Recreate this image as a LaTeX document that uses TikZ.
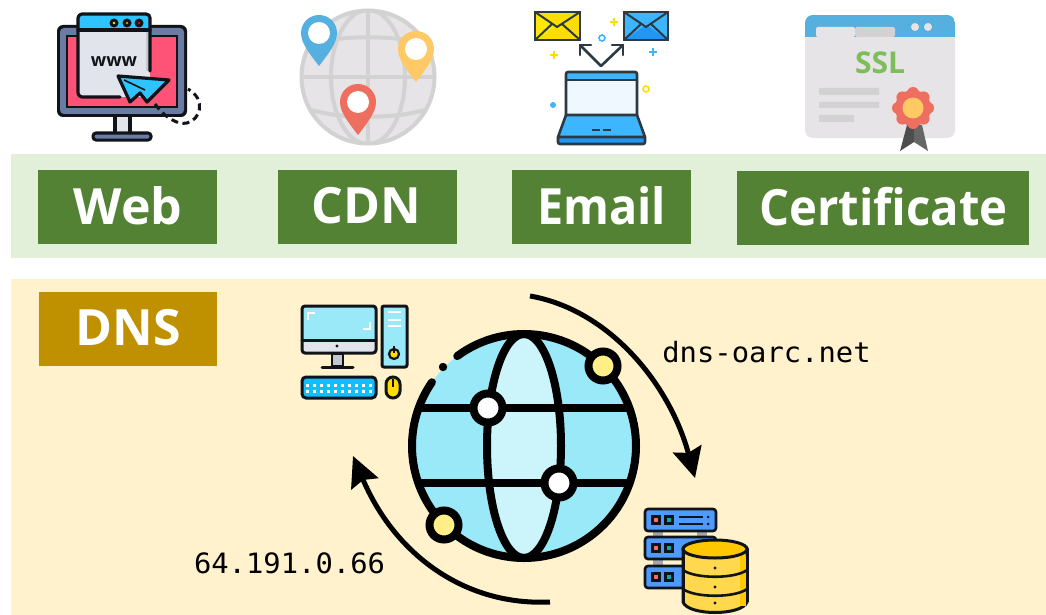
\documentclass[tikz,border=0pt]{standalone}
\usepackage{fontspec}
\setmainfont{Open Sans}
\newfontfamily\monof{DejaVu Sans Mono}
\usetikzlibrary{arrows.meta}
\definecolor{dk}{HTML}{101418}
\definecolor{bandg}{HTML}{E2F0D9}
\definecolor{bandy}{HTML}{FFF2CC}
\definecolor{btng}{HTML}{548235}
\definecolor{btny}{HTML}{BF9000}
\definecolor{pale}{HTML}{E6E4E6}
\definecolor{gline}{HTML}{D2D2D2}
\definecolor{pinb}{HTML}{55B0E0}
\definecolor{piny}{HTML}{FFC966}
\definecolor{pinr}{HTML}{EE6F60}
\definecolor{edk}{HTML}{2B3A42}
\definecolor{eblu}{HTML}{3DB5FF}
\definecolor{eblud}{HTML}{2096F5}
\definecolor{eyel}{HTML}{FFDD00}
\definecolor{cyan1}{HTML}{99E9F9}
\definecolor{cyan2}{HTML}{CBF5FB}
\definecolor{sat}{HTML}{FFEF86}
\definecolor{srv}{HTML}{4D9BFF}
\definecolor{dbf}{HTML}{FFD84D}
\definecolor{dbt}{HTML}{FFC800}
\definecolor{winbody}{HTML}{E1E4EA}
\definecolor{winshade}{HTML}{C3C8D0}
\definecolor{winbar}{HTML}{2EC4FF}
\definecolor{monframe}{HTML}{6B7BA4}
\definecolor{monpink}{HTML}{FF5277}
\definecolor{lapscr}{HTML}{EEF8FE}
\definecolor{sslg}{HTML}{7DBD5A}
\definecolor{ribd}{HTML}{4D4D4D}
\definecolor{ribl}{HTML}{666666}
\definecolor{kbd}{HTML}{10BFFF}
\definecolor{tealb}{HTML}{10A8A8}
\tikzset{
  btn/.style={text=white,font=\fontsize{50}{50}\selectfont\bfseries,inner sep=0pt,anchor=center},
  mono/.style={font=\fontsize{28}{28}\monof,text=black,inner sep=0pt},
  globeline/.style={draw=black,line width=8pt},
  wline/.style={draw=dk,line width=3.2pt,line join=round,line cap=round},
  eline/.style={draw=edk,line width=2.6pt,line join=round,line cap=round},
  cline/.style={draw=dk,line width=3pt,line join=round,line cap=round},
  flow/.style={line width=5pt,-{Stealth[length=30pt,width=29pt,inset=4pt]}},
  cdnline/.style={draw=gline,line width=4pt},
  deco/.style={line width=1.6pt},
  pinpath/.pic={\fill[pic actions] (0,33) .. controls (-10,20) and (-18,10) .. (-18,0) .. controls (-18,-10) and (-10,-18) .. (0,-18) .. controls (10,-18) and (18,-10) .. (18,0) .. controls (18,10) and (10,20) .. (0,33) -- cycle;
     \fill[white] (0,0) circle[radius=11];}
}
\newcommand{\plusmark}[3]{\draw[deco,draw=#3] (#1-4,#2) -- (#1+4,#2) (#1,#2-4) -- (#1,#2+4);}
\begin{document}
\begin{tikzpicture}[x=1pt,y=-1pt]
\useasboundingbox (0,0) rectangle (1046,615);
\fill[white] (0,0) rectangle (1046,615);
% bands
\fill[bandg] (11,154) rectangle (1046,258);
\fill[bandy] (11,279) rectangle (1046,615);
% buttons
\fill[btng] (38,170) rectangle (217,244);
\fill[btng] (278,170) rectangle (457,244);
\fill[btng] (512,170) rectangle (691,244);
\fill[btng] (737,171) rectangle (1029,245);
\fill[btny] (39,292) rectangle (217,366);
\node[btn] (web) at (128,206) {Web};
\node[btn] (cdn) at (366,206) {CDN};
\node[btn] (email) at (601.5,206) {\scalebox{0.935}[1]{Email}};
\node[btn] (cert) at (883.5,207) {\scalebox{0.945}[1]{Certificate}};
\node[btn] (dns) at (128,328) {DNS};

% ---- Web icon
\fill[rounded corners=6pt,fill=dk] (57,25) rectangle (187,117);
\fill[rounded corners=4pt,fill=monframe] (60,28) rectangle (184,114);
\fill[fill=dk] (66,35) rectangle (178,108);
\fill[fill=monpink] (68,37) rectangle (176,106);
\fill[winbody] (78,26) rectangle (150,97);
\fill[winshade] (146,30) rectangle (150,71);
\fill[rounded corners=3pt,winbar] (78,14) rectangle (150,30);
\fill[monpink] (150,71) rectangle (153,97);
\draw[wline,rounded corners=4pt] (120,97) -- (78,97) -- (78,14) -- (150,14) -- (150,71);
\draw[wline] (78,30) -- (150,30);
\foreach \x/\c in {114/yellow,127/orange,139/red}{\fill[dk] (\x,23) circle[radius=4.5];\fill[\c] (\x,23) circle[radius=1.4];}
\node[inner sep=0pt,font=\fontsize{18}{18}\selectfont\bfseries,text=dk] (wwwt) at (114,62) {www};
\fill[winbody] (115,117) rectangle (130,131);
\draw[wline] (115,117) -- (115,131) (130,117) -- (130,131);
\filldraw[rounded corners=3pt,fill=monframe,draw=dk,line width=3pt] (93,133) rectangle (151,140);
\filldraw[fill=winbar,draw=dk,line width=3.2pt,line join=round] (118,76) -- (169,80) -- (147,102) -- (140,93) -- (130,102) -- cycle;
\draw[draw=dk,line width=1.6pt] (124,80) -- (145,90);
\draw[draw=dk,line width=3pt,dash pattern=on 7pt off 4.5pt] (155,104) .. controls (165,118) and (178,125) .. (187,123) .. controls (200,120) and (207,100) .. (188,89);

% ---- CDN icon
\fill[pale] (368,77) circle[radius=68];
\begin{scope}
\clip (368,77) circle[radius=68];
\draw[cdnline] (368,77) ellipse[x radius=37,y radius=67];
\draw[cdnline] (300,77) -- (436,77) (368,9) -- (368,145);
\draw[cdnline] (312,44) .. controls (340,35) and (396,35) .. (424,44);
\draw[cdnline] (312,110) .. controls (340,119) and (396,119) .. (424,110);
\end{scope}
\draw[cdnline] (368,77) circle[radius=66.5];
\pic[fill=pinb] at (319,33) {pinpath};
\pic[fill=piny] at (416,49) {pinpath};
\pic[fill=pinr] at (358,102) {pinpath};

% ---- Email icon
\filldraw[fill=eyel,draw=edk,line width=2.4pt] (535,12) rectangle (580,40);
\fill[yellow!60!eyel] (536,13) -- (557,27) -- (536,39) -- cycle;
\draw[eline,line width=2pt] (535,12) -- (557,27) -- (580,12) (535,40) -- (552,24) (580,40) -- (562,24);
\filldraw[fill=eblu,draw=edk,line width=2.4pt] (624,12) rectangle (668,40);
\fill[eblud] (626,39) -- (646,25) -- (667,39) -- cycle;
\draw[eline,line width=2pt] (624,12) -- (646,27) -- (668,12) (624,40) -- (641,24) (668,40) -- (651,24);
\draw[eline] (580,45) -- (601,66) -- (623,45);
\draw[eline] (580,55) -- (580,45) -- (591,45);
\draw[eline] (612,45) -- (623,45) -- (623,55);
\fill[lapscr] (566,72) rectangle (637,115);
\fill[eblu] (566,72) rectangle (637,79);
\draw[eline,rounded corners=2pt] (566,115) -- (566,72) -- (637,72) -- (637,115);
\draw[edk,line width=1.2pt] (566,80) -- (637,80);
\fill[eblu] (566,115) -- (637,115) -- (645,136) -- (558,136) -- cycle;
\fill[eblud] (558,136) rectangle (645,143);
\draw[eline] (566,115) -- (637,115) -- (645,137) -- (558,137) -- cycle;
\draw[eline,rounded corners=2pt] (558,137) -- (558,144) -- (645,144) -- (645,137);
\draw[edk,line width=2pt] (592,130.5) -- (600,130.5) (603,130.5) -- (611,130.5);
\plusmark{614}{22}{eyel}
\plusmark{554}{55}{eyel}
\plusmark{653}{52}{eblu}
\draw[deco,draw=eblu] (602,38) circle[radius=3];
\draw[deco,draw=eyel] (646,89) circle[radius=3];
\fill[eblu] (553,105) circle[radius=3];

% ---- Certificate icon
\fill[pale,rounded corners=8pt] (805,15) rectangle (955,138);
\begin{scope}
\clip[rounded corners=8pt] (805,15) rectangle (955,138);
\fill[pinb] (805,15) rectangle (955,37);
\end{scope}
\fill[pale,rounded corners=2pt] (816,27) -- (855,27) -- (855,37) -- (816,37) -- cycle;
\fill[gline,rounded corners=2pt] (855,27) -- (895,27) -- (895,37) -- (855,37) -- cycle;
\fill[pale] (915,27) circle[radius=4] (928,27) circle[radius=4];
\node[inner sep=0pt,font=\fontsize{30}{30}\selectfont\bfseries,text=sslg] (ssl) at (880,63) {SSL};
\fill[gline] (819,88) rectangle (879,95) (819,102) rectangle (879,108) (819,115) rectangle (854,122);
\fill[ribd] (907,125) -- (914,125) -- (914,142) -- (900,151) -- cycle;
\fill[ribl] (914,125) -- (922,125) -- (928,151) -- (914,142) -- cycle;
\foreach \a in {0,45,...,315}{\fill[pinr] (913,108) ++(\a:15) circle[radius=6];}
\fill[pinr] (913,108) circle[radius=18];
\fill[piny] (913,108) circle[radius=10.5];

% ---- Computer icon
\fill[cyan1,rounded corners=3pt] (301,305) rectangle (377,342);
\fill[winbody,rounded corners=3pt] (301,340) rectangle (377,353);
\draw[cline,rounded corners=3pt] (302,306) rectangle (376,353);
\draw[cline] (302,340) -- (376,340);
\draw[white,line width=2.6pt] (308,320) -- (308,313) -- (315,313) (370,322) -- (370,329) -- (363,329);
\fill[dk] (337,346) circle[radius=1.6];
\filldraw[fill=winshade,draw=dk,line width=2.2pt] (332,354) rectangle (343,366);
\draw[dk,line width=3pt,line cap=round] (322,367) -- (353,367);
\filldraw[fill=cyan1,draw=dk,line width=3pt,rounded corners=2pt] (382,306) rectangle (407,367);
\draw[white,line width=2.2pt] (388,312) -- (401,312) (388,320) -- (401,320) (388,326) -- (401,326);
\filldraw[fill=eyel,draw=dk,line width=2.2pt] (394,354) circle[radius=5];
\draw[dk,line width=1.8pt] (394,346) -- (394,353);
\filldraw[fill=kbd,draw=dk,line width=3pt,rounded corners=4pt] (302,377) rectangle (376,398);
\foreach \x in {0,...,9}{\fill[white] (307+7*\x-1.4,383.5) rectangle +(3.4,3.4); \fill[white] (307+7*\x-1.4,390) rectangle +(3.4,3.4);}
\filldraw[fill=eyel,draw=dk,line width=3pt,rounded corners=7pt] (386,377) rectangle (400,398);
\draw[dk,line width=1.6pt] (393,379) -- (393,387);

% ---- Globe
\fill[cyan1] (524,446) circle[radius=112];
\fill[cyan2] (524,446) ellipse[x radius=37,y radius=112];
\draw[globeline] (524,446) ellipse[x radius=37,y radius=112];
\draw[globeline] (417,408) -- (631,408) (417,483) -- (631,483);
\draw[globeline,line cap=round] (524,446) ++(-126.6:112) arc[start angle=-126.6,end angle=214.7,radius=112];
\fill[black] (443,367) circle[radius=4.2];
\foreach \x/\y/\c in {603/366/sat,444/525/sat,488/408/white,559/483/white}{
  \filldraw[fill=\c,draw=black,line width=8pt] (\x,\y) circle[radius=14.5];}

% ---- Server icon
\foreach \y in {532,560}{\fill[gray!70] (653,\y-1) rectangle (663,\y+7);}
\fill[gray!70] (697,531) rectangle (707,539);
\foreach \y in {509,537,566}{
  \filldraw[fill=srv,draw=dk,line width=2.6pt,rounded corners=3pt] (645,\y) rectangle (716,\y+22);
  \fill[dk] (651,\y+6) rectangle +(10,10);
  \fill[pinr] (654,\y+9) rectangle +(4,4);
  \fill[dk] (664,\y+6) rectangle +(10,10);
  \fill[tealb] (667,\y+9) rectangle +(4,4);
}
\draw[dk,line width=1.8pt] (679,517) -- (703,517) (679,524) -- (703,524);
\fill[dk] (708,517) circle[radius=1.5] (708,524) circle[radius=1.5];
% database
\filldraw[fill=dbf,draw=dk,line width=3pt] (683,549) -- (683,602) .. controls (688,616) and (742,616) .. (747,602) -- (747,549) -- cycle;
\filldraw[fill=dbt,draw=dk,line width=3pt] (715,549) ellipse[x radius=32,y radius=9];
\fill[dbt] (740,556) rectangle (745.5,606);
\draw[dk,line width=3pt] (683,549) -- (683,602) (747,549) -- (747,602);
\draw[dk,line width=2.6pt] (683,570) .. controls (695,579) and (735,579) .. (747,570);
\draw[dk,line width=2.6pt] (683,589) .. controls (695,598) and (735,598) .. (747,589);
\fill[dk] (715,568) circle[radius=1.6] (715,587) circle[radius=1.6] (715,603) circle[radius=1.6];

% ---- Labels and flows
\node[mono] (host) at (766.5,352) {\scalebox{1.03}[1]{dns-oarc.net}};
\node[mono] (addr) at (289.5,563) {\scalebox{1.03}[1]{64.191.0.66}};
\coordinate (queryfrom) at (530,296);
\coordinate (queryto) at (695,478);
\coordinate (answerfrom) at (550,602);
\coordinate (answerto) at (353,456);
\draw[flow] (queryfrom) .. controls (610,310) and (670,385) .. (queryto);
\draw[flow] (answerfrom) .. controls (465,606) and (395,555) .. (answerto);
\end{tikzpicture}
\end{document}
